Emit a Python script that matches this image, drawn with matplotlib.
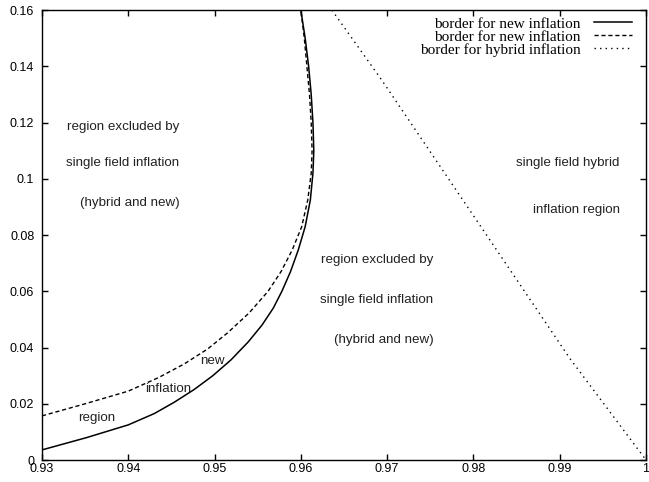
import matplotlib
matplotlib.use("Agg")
import matplotlib.pyplot as plt

# border curves in the (n_s, r) plane
new_solid_r = [0.0036, 0.0080, 0.0125, 0.0165, 0.0205, 0.0250, 0.0300, 0.0356,
               0.0420, 0.0480, 0.0540, 0.0600, 0.0670, 0.0747, 0.0830, 0.0925,
               0.1020, 0.1100, 0.1200, 0.1300, 0.1400, 0.1500, 0.1600]
new_solid_ns = [0.9300, 0.9352, 0.9400, 0.9430, 0.9453, 0.9476, 0.9498, 0.9519,
                0.9539, 0.9555, 0.9568, 0.9578, 0.9588, 0.9597, 0.9605, 0.9611,
                0.9614, 0.9615, 0.9614, 0.9612, 0.9609, 0.9605, 0.9600]

new_dashed_r = [0.0157, 0.0200, 0.0245, 0.0293, 0.0342, 0.0395, 0.0452, 0.0523,
                0.0600, 0.0670, 0.0747, 0.0830, 0.0925, 0.1020, 0.1100, 0.1200,
                0.1300, 0.1400, 0.1500, 0.1600]
new_dashed_ns = [0.9300, 0.9350, 0.9400, 0.9435, 0.9465, 0.9492, 0.9515, 0.9540,
                 0.9562, 0.9577, 0.9590, 0.9601, 0.9608, 0.9612, 0.9613, 0.9612,
                 0.9610, 0.9607, 0.9604, 0.9600]

hybrid_ns = [0.9636, 0.9694, 0.9802, 0.9912, 1.0000]
hybrid_r = [0.160, 0.135, 0.086, 0.036, 0.000]

xticks = [0.93, 0.94, 0.95, 0.96, 0.97, 0.98, 0.99, 1.0]
xticklabels = ["0.93", "0.94", "0.95", "0.96", "0.97", "0.98", "0.99", "1"]
yticks = [0, 0.02, 0.04, 0.06, 0.08, 0.1, 0.12, 0.14, 0.16]
yticklabels = ["0", "0.02", "0.04", "0.06", "0.08", "0.1", "0.12", "0.14", "0.16"]

# region annotations: (text, n_s of right edge, r)
region_labels = [
    ("region excluded by", 0.94594, 0.1184),
    ("single field inflation", 0.94594, 0.1056),
    ("(hybrid and new)", 0.94594, 0.0914),
    ("region excluded by", 0.97538, 0.0711),
    ("single field inflation", 0.97538, 0.0569),
    ("(hybrid and new)", 0.97538, 0.0427),
    ("single field hybrid", 0.99694, 0.1056),
    ("inflation region", 0.99694, 0.0889),
    ("new", 0.95113, 0.0352),
    ("inflation", 0.94732, 0.0252),
    ("region", 0.93854, 0.0149),
]

sans = ["Liberation Sans", "DejaVu Sans"]
serif = ["Liberation Serif", "DejaVu Serif"]

fig = plt.figure(figsize=(6.49, 4.82), dpi=100)
ax = fig.add_axes([0.0647, 0.0456, 0.9307, 0.9334])

ax.plot(new_solid_ns, new_solid_r, color="black", lw=1.1, ls="-",
        label="border for new inflation")
ax.plot(new_dashed_ns, new_dashed_r, color="black", lw=1.0, ls=(0, (3, 2)),
        label="border for new inflation")
ax.plot(hybrid_ns, hybrid_r, color="black", lw=1.0, ls=(0, (1, 3)),
        label="border for hybrid inflation")

for txt, x, y in region_labels:
    ax.text(x, y, txt, ha="right", va="center", fontsize=9.6, family=sans,
            color="#222222")

ax.set_xlim(0.93, 1.0)
ax.set_ylim(0, 0.16)
ax.set_xticks(xticks)
ax.set_xticklabels(xticklabels, family=sans, fontsize=9)
ax.set_yticks(yticks)
ax.set_yticklabels(yticklabels, family=sans, fontsize=9)
ax.tick_params(direction="in", length=4.5, width=1.0, top=True, right=True)
ax.tick_params(axis="x", pad=2)
ax.tick_params(axis="y", pad=5.5)
for s in ax.spines.values():
    s.set_linewidth(1.0)

leg = ax.legend(loc="upper right", bbox_to_anchor=(0.977, 0.985),
                frameon=False, markerfirst=False,
                prop={"family": serif, "size": 11}, handlelength=2.5,
                handletextpad=0.85, labelspacing=-0.04, borderaxespad=0.0,
                borderpad=0.0)

fig.savefig("out.png", dpi=100)
